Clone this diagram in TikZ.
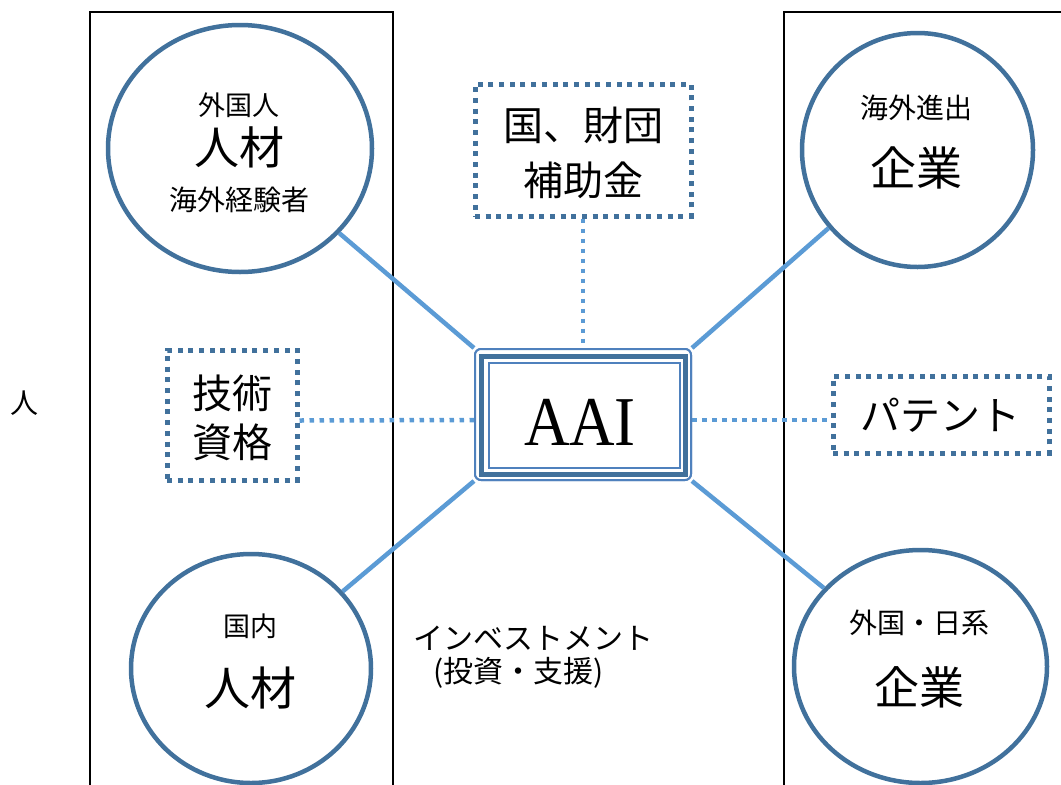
\documentclass[tikz,border=0pt]{standalone}
\usepackage{fontspec}
\setmainfont{Liberation Serif}
\newfontfamily\cjk{Noto Sans CJK JP}
\usetikzlibrary{shapes.geometric}
\definecolor{ringblue}{HTML}{41719C}
\definecolor{lineblue}{HTML}{5B9BD5}
\definecolor{thinblue}{HTML}{4F81BD}
\tikzset{
  ring/.style={draw=ringblue, line width=4.5pt, fill=white, ellipse, inner sep=0pt},
  dotbox/.style={draw=ringblue, line width=5pt, dash pattern=on 5pt off 5.7pt, fill=white, inner sep=0pt},
  dotlink/.style={draw=lineblue, line width=4.5pt, dash pattern=on 4.5pt off 5.5pt},
  link/.style={draw=lineblue, line width=4.5pt},
  frame/.style={draw=black, line width=2pt},
  aaibox/.style={draw=thinblue, line width=2pt, rounded corners=6pt, minimum width=216pt, minimum height=131pt, inner sep=0pt},
  jt/.style={font=\cjk\fontsize{#1}{#1}\selectfont, inner sep=0pt, anchor=center},
}
\begin{document}
\begin{tikzpicture}[x=1pt,y=-1pt]
\useasboundingbox (0,0) rectangle (1061,785);
% frames
\draw[frame] (90,786) -- (90,12) -- (393,12) -- (393,786);
\draw[frame] (784,786) -- (784,12) -- (1062,12);
% AAI box
\node[aaibox] (aai) at (583,414.5) {};
% ellipses
\node[ring, minimum width=264pt, minimum height=247pt] (tl) at (240,148.5) {};
\node[ring, minimum width=231pt, minimum height=234pt] (tr) at (917.5,150) {};
\node[ring, minimum width=240pt, minimum height=229pt] (bl) at (251,668.5) {};
\node[ring, minimum width=253pt, minimum height=233pt] (br) at (920.5,666.5) {};
% links
\draw[link] (aai.north west) -- (tl);
\draw[link] (aai.north east) -- (tr);
\draw[link] (aai.south west) -- (bl);
\draw[link] (aai.south east) -- (br);
% dotted boxes
\node[dotbox, minimum width=216pt, minimum height=132pt] (fund) at (583,150) {};
\node[dotbox, minimum width=130pt, minimum height=130pt] (skill) at (232,415) {};
\node[dotbox, minimum width=216pt, minimum height=77pt] (pat) at (941,414.5) {};
\draw[dotlink] (fund.south) -- (aai.north);
\draw[dotlink] ([yshift=-5.5pt]skill.east) -- ([yshift=-5.5pt]aai.west);
\draw[dotlink] ([yshift=-5.5pt]aai.east) -- ([yshift=-5.5pt]pat.west);
% AAI frames on top of links
\node[aaibox, fill=white] at (583,414.5) {};
\draw[draw=ringblue, line width=5pt] (481.5,356.5) rectangle (685.5,474.5);
\draw[draw=thinblue, line width=2pt] (489,363) rectangle (680,468);
\node[font=\fontsize{70}{70}\selectfont, xscale=0.9, inner sep=0pt] (aaitext) at (580,422) {AAI};
% texts
\node[jt=40] (f1) at (583,125) {国、財団};
\node[jt=40] (f2) at (583,180) {補助金};
\node[jt=40] (s1) at (232,393) {技術};
\node[jt=40] (s2) at (232,442) {資格};
\node[jt=40] (p1) at (940,415) {パテント};
\node[jt=27] (tl1) at (239,105) {外国人};
\node[jt=45] (tl2) at (239,147) {人材};
\node[jt=28] (tl3) at (239,200) {海外経験者};
\node[jt=28] (tr1) at (916,108) {海外進出};
\node[jt=46] (tr2) at (916,168) {企業};
\node[jt=27] (bl1) at (250,626) {国内};
\node[jt=46] (bl2) at (250,688) {人材};
\node[jt=28] (br1) at (919,623) {外国・日系};
\node[jt=45] (br2) at (919,687) {企業};
\node[jt=30, anchor=west] (inv1) at (413,638) {インベストメント};
\node[jt=30, anchor=west] (inv2) at (433,673) {(投資・支援)};
\node[jt=28] (hito) at (24,403) {人};
\end{tikzpicture}
\end{document}
